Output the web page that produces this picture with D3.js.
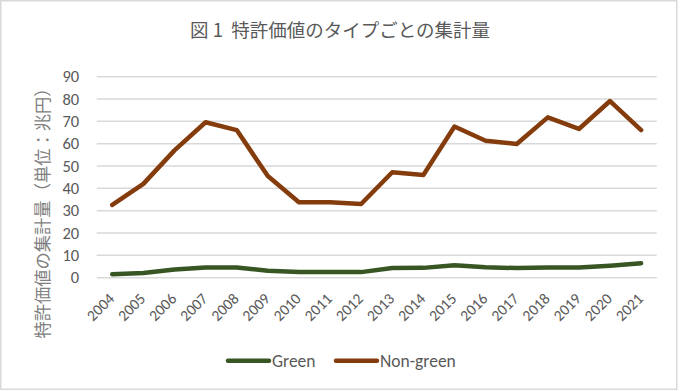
<!DOCTYPE html>
<html><head><meta charset="utf-8">
<script src="https://cdn.jsdelivr.net/npm/d3@7"></script>
<style>html,body{margin:0;padding:0;background:#fff;}</style>
</head><body>
<svg id="chart" width="680" height="391"></svg>
<script>
const years = ["2004","2005","2006","2007","2008","2009","2010","2011","2012","2013","2014","2015","2016","2017","2018","2019","2020","2021"];
const green = [1.6,2.1,3.7,4.6,4.6,3.1,2.5,2.5,2.5,4.3,4.4,5.6,4.7,4.3,4.6,4.6,5.4,6.5];
const nonGreen = [32.6,42.0,57.0,69.6,66.1,45.5,33.8,33.8,33.0,47.2,46.0,67.7,61.3,59.9,71.8,66.6,79.1,66.1];
const yTicks = [0,10,20,30,40,50,60,70,80,90];
const seriesNames = ["Green","Non-green"];
const seriesColors = ["#375623","#843c0c"];

const svg = d3.select("#chart");
const W = 680, H = 391;
const m = {left: 96.7, right: 680-656.7, top: 76.7, bottom: 391-277.7};
const font = "Calibri, Carlito, 'Open Sans', 'Noto Sans CJK JP', sans-serif";

svg.append("rect").attr("x",0.75).attr("y",0.75).attr("width",W-4).attr("height",H-2.5)
  .attr("fill","#fff").attr("stroke","#d9d9d9").attr("stroke-width",1.5);

const x = d3.scaleBand().domain(years).range([m.left, W-m.right]);
const y = d3.scaleLinear().domain([0,90]).range([H-m.bottom, m.top]);

// gridlines
svg.append("g").selectAll("line").data(yTicks).join("line")
  .attr("x1", m.left).attr("x2", W-m.right)
  .attr("y1", d=>y(d)).attr("y2", d=>y(d))
  .attr("stroke","#d9d9d9").attr("stroke-width",1.5);

// y axis
const yAxis = svg.append("g").attr("transform",`translate(${m.left},0)`)
  .call(d3.axisLeft(y).tickValues(yTicks).tickSize(0).tickPadding(17.5));
yAxis.select(".domain").remove();
yAxis.selectAll("text").attr("fill","#595959").style("font-family",font).style("font-size","16.5px");

// x axis
const xAxis = svg.append("g").attr("transform",`translate(0,${H-m.bottom})`)
  .call(d3.axisBottom(x).tickSize(0).tickPadding(0));
xAxis.select(".domain").remove();
xAxis.selectAll("text")
  .attr("fill","#595959").style("font-family",font).style("font-size","15.5px")
  .attr("text-anchor","end").attr("dy","0")
  .attr("transform","translate(3,22) rotate(-45)");

// lines
const line = d3.line().x((d,i)=>x(years[i])+x.bandwidth()/2).y(d=>y(d));
[green, nonGreen].forEach((s,k)=>{
  svg.append("path").datum(s).attr("d",line)
    .attr("fill","none").attr("stroke",seriesColors[k]).attr("stroke-width",4.5)
    .attr("stroke-linejoin","round").attr("stroke-linecap","round");
});

// title
svg.append("text").attr("x",340).attr("y",37).attr("text-anchor","middle")
  .attr("fill","#595959").style("font-family","'Noto Sans CJK JP', sans-serif").style("font-size","18.5px")
  .style("white-space","pre").attr("xml:space","preserve")
  .text("図 1  特許価値のタイプごとの集計量");

// y title
svg.append("text").attr("transform",`translate(49,209) rotate(-90)`).attr("text-anchor","middle")
  .attr("fill","#808080").style("font-family","'Noto Sans CJK JP', sans-serif").style("font-size","17.3px")
  .text("特許価値の集計量（単位：兆円）");

// legend
const legX = [228, 336];
seriesNames.forEach((n,k)=>{
  const g = svg.append("g");
  g.append("line").attr("x1",legX[k]).attr("x2",legX[k]+41).attr("y1",360.7).attr("y2",360.7)
    .attr("stroke",seriesColors[k]).attr("stroke-width",4.5).attr("stroke-linecap","round");
  g.append("text").attr("x",legX[k]+44).attr("y",366.5).attr("fill","#595959")
    .style("font-family",font).style("font-size","17.5px").text(n);
});
</script>
</body></html>
